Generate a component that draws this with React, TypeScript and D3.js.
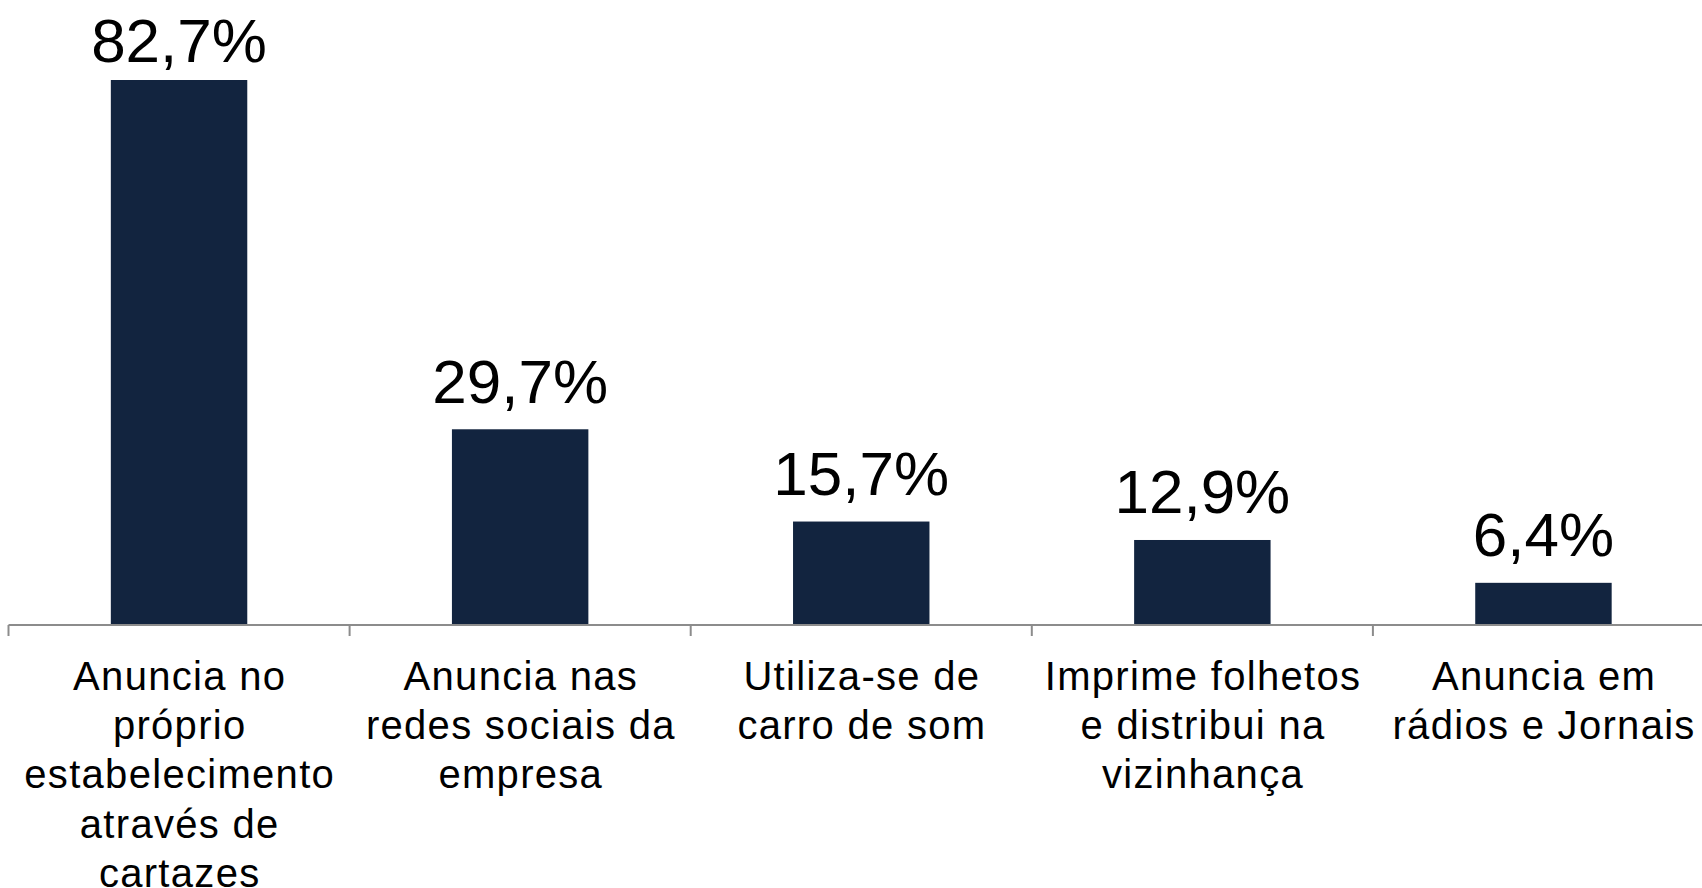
import React from "react";
import * as d3 from "d3";

const categories: string[][] = [
  ["Anuncia no", "próprio", "estabelecimento", "através de", "cartazes"],
  ["Anuncia nas", "redes sociais da", "empresa"],
  ["Utiliza-se de", "carro de som"],
  ["Imprime folhetos", "e distribui na", "vizinhança"],
  ["Anuncia em", "rádios e Jornais"],
];
const values: number[] = [82.7, 29.7, 15.7, 12.9, 6.4];
const valueLabels: string[] = ["82,7%", "29,7%", "15,7%", "12,9%", "6,4%"];

const W = 1702;
const H = 888;
const axisY = 625;
const left = 8.5;
const step = 341.1;

export default function App() {
  const x = d3
    .scaleBand<number>()
    .domain(values.map((_, i) => i))
    .range([left, left + step * values.length])
    .paddingInner(0.6)
    .paddingOuter(0.3);
  const y = d3.scaleLinear().domain([0, 90]).range([axisY, axisY - 90 * 6.59]);
  const font = "'Liberation Sans', Arial, sans-serif";
  const ticks = d3.range(values.length + 1).map((i) => left + i * x.step());

  return (
    <div style={{ position: "fixed", left: 0, top: 0, width: W, height: H, background: "#fff" }}>
      <svg width={W} height={H} style={{ display: "block" }}>
        {values.map((v, i) => (
          <rect
            key={"b" + i}
            x={x(i)!}
            y={y(v)}
            width={x.bandwidth()}
            height={axisY - y(v)}
            fill="#12243F"
          />
        ))}
        <line x1={left} x2={W} y1={axisY} y2={axisY} stroke="#8C8C8C" strokeWidth={2} />
        {ticks.map((t, i) => (
          <line key={"t" + i} x1={t} x2={t} y1={axisY} y2={axisY + 11} stroke="#8C8C8C" strokeWidth={2} />
        ))}
        {values.map((v, i) => (
          <text
            key={"v" + i}
            x={x(i)! + x.bandwidth() / 2}
            y={Math.max(y(v) - 26.5, 61.7)}
            textAnchor="middle"
            fontFamily={font}
            fontSize={62}
            fill="#000"
          >
            {valueLabels[i]}
          </text>
        ))}
        {categories.map((lines, i) => (
          <text
            key={"c" + i}
            textAnchor="middle"
            fontFamily={font}
            fontSize={40}
            letterSpacing={1.3}
            fill="#000"
          >
            {lines.map((ln, j) => (
              <tspan key={j} x={x(i)! + x.bandwidth() / 2 + 0.65} y={690 + j * 49.2}>
                {ln}
              </tspan>
            ))}
          </text>
        ))}
      </svg>
    </div>
  );
}
